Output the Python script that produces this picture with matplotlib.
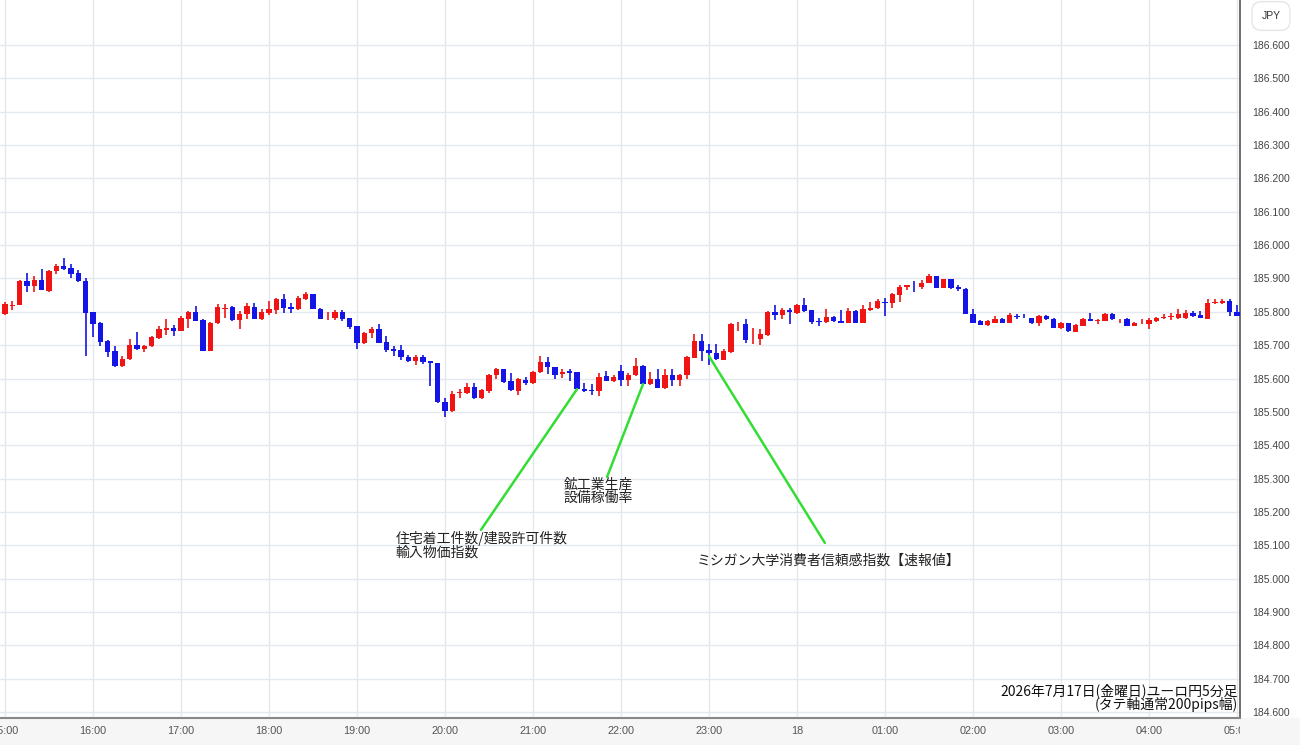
import matplotlib
matplotlib.use('Agg')
import matplotlib.pyplot as plt
from matplotlib.patches import Rectangle
from matplotlib.transforms import Bbox, TransformedBbox
import numpy as np

plt.rcParams['font.family'] = ['Noto Sans CJK JP', 'DejaVu Sans']

# 5-minute candles, index 0 = 15:00 (index -1 = 14:55)
opens = [185.823, 185.793, 185.817, 185.821, 185.891, 185.878, 185.896, 185.863, 185.923, 185.936,
         185.930, 185.915, 185.893, 185.798, 185.766, 185.713, 185.681, 185.638, 185.658, 185.700,
         185.688, 185.696, 185.720, 185.745, 185.751, 185.743, 185.778, 185.798, 185.775, 185.683,
         185.766, 185.809, 185.814, 185.775, 185.792, 185.815, 185.777, 185.795, 185.805, 185.837,
         185.813, 185.807, 185.837, 185.852, 185.809, 185.783, 185.782, 185.800, 185.782, 185.757,
         185.705, 185.735, 185.747, 185.709, 185.687, 185.684, 185.665, 185.652, 185.665, 185.653,
         185.646, 185.530, 185.503, 185.557, 185.558, 185.576, 185.543, 185.563, 185.610, 185.628,
         185.593, 185.563, 185.596, 185.586, 185.620, 185.650, 185.636, 185.613, 185.623, 185.620,
         185.570, 185.566, 185.563, 185.608, 185.593, 185.622, 185.595, 185.612, 185.639, 185.585,
         185.600, 185.572, 185.612, 185.595, 185.610, 185.662, 185.712, 185.684, 185.677, 185.657,
         185.679, 185.762, 185.762, 185.720, 185.717, 185.729, 185.799, 185.789, 185.805, 185.797,
         185.819, 185.805, 185.772, 185.769, 185.785, 185.772, 185.765, 185.802, 185.767, 185.805,
         185.812, 185.829, 185.827, 185.849, 185.875, 185.881, 185.875, 185.885, 185.907, 185.872,
         185.897, 185.875, 185.869, 185.792, 185.772, 185.759, 185.767, 185.777, 185.767, 185.787,
         185.785, 185.782, 185.765, 185.787, 185.779, 185.752, 185.765, 185.739, 185.757, 185.777,
         185.772, 185.772, 185.792, 185.777, 185.779, 185.757, 185.765, 185.762, 185.772, 185.782,
         185.784, 185.782, 185.782, 185.795, 185.789, 185.779, 185.827, 185.827, 185.832, 185.799]
highs = [185.826, 185.830, 185.833, 185.896, 185.915, 185.908, 185.928, 185.926, 185.943, 185.960,
         185.943, 185.926, 185.900, 185.800, 185.768, 185.715, 185.696, 185.668, 185.718, 185.738,
         185.700, 185.726, 185.756, 185.778, 185.760, 185.788, 185.801, 185.818, 185.777, 185.768,
         185.823, 185.822, 185.816, 185.802, 185.825, 185.827, 185.807, 185.832, 185.842, 185.852,
         185.825, 185.847, 185.860, 185.853, 185.810, 185.800, 185.805, 185.805, 185.782, 185.757,
         185.740, 185.755, 185.762, 185.727, 185.697, 185.699, 185.669, 185.669, 185.669, 185.653,
         185.648, 185.543, 185.563, 185.568, 185.586, 185.588, 185.568, 185.613, 185.633, 185.630,
         185.618, 185.603, 185.606, 185.623, 185.668, 185.663, 185.636, 185.630, 185.630, 185.620,
         185.588, 185.583, 185.618, 185.623, 185.612, 185.642, 185.617, 185.662, 185.642, 185.619,
         185.629, 185.629, 185.629, 185.615, 185.667, 185.734, 185.732, 185.702, 185.702, 185.687,
         185.766, 185.769, 185.779, 185.752, 185.747, 185.801, 185.819, 185.812, 185.812, 185.822,
         185.842, 185.805, 185.782, 185.809, 185.787, 185.805, 185.812, 185.805, 185.819, 185.829,
         185.837, 185.842, 185.857, 185.879, 185.879, 185.892, 185.895, 185.912, 185.907, 185.899,
         185.899, 185.879, 185.872, 185.809, 185.775, 185.775, 185.787, 185.782, 185.795, 185.792,
         185.792, 185.782, 185.789, 185.789, 185.782, 185.769, 185.767, 185.762, 185.782, 185.797,
         185.777, 185.797, 185.797, 185.779, 185.782, 185.769, 185.779, 185.782, 185.785, 185.792,
         185.797, 185.809, 185.805, 185.802, 185.802, 185.839, 185.839, 185.837, 185.839, 185.819]
lows = [185.792, 185.790, 185.806, 185.820, 185.858, 185.858, 185.866, 185.860, 185.913, 185.926,
        185.900, 185.889, 185.668, 185.723, 185.696, 185.663, 185.636, 185.636, 185.656, 185.686,
        185.678, 185.694, 185.718, 185.730, 185.728, 185.741, 185.750, 185.771, 185.681, 185.681,
        185.764, 185.782, 185.773, 185.747, 185.777, 185.777, 185.775, 185.789, 185.792, 185.797,
        185.795, 185.805, 185.835, 185.808, 185.777, 185.775, 185.775, 185.772, 185.747, 185.689,
        185.703, 185.722, 185.705, 185.679, 185.667, 185.657, 185.649, 185.642, 185.645, 185.578,
        185.528, 185.486, 185.500, 185.543, 185.553, 185.540, 185.540, 185.556, 185.600, 185.588,
        185.563, 185.550, 185.580, 185.583, 185.618, 185.613, 185.600, 185.603, 185.593, 185.568,
        185.560, 185.550, 185.548, 185.593, 185.590, 185.579, 185.579, 185.607, 185.582, 185.582,
        185.572, 185.569, 185.579, 185.579, 185.599, 185.660, 185.652, 185.642, 185.657, 185.655,
        185.677, 185.742, 185.705, 185.702, 185.699, 185.727, 185.775, 185.779, 185.764, 185.792,
        185.800, 185.762, 185.757, 185.767, 185.769, 185.767, 185.765, 185.765, 185.765, 185.802,
        185.809, 185.787, 185.812, 185.829, 185.865, 185.859, 185.869, 185.885, 185.872, 185.870,
        185.869, 185.862, 185.792, 185.765, 185.759, 185.757, 185.765, 185.765, 185.767, 185.779,
        185.782, 185.762, 185.757, 185.775, 185.752, 185.749, 185.739, 185.739, 185.757, 185.772,
        185.762, 185.772, 185.775, 185.767, 185.757, 185.757, 185.762, 185.747, 185.769, 185.777,
        185.775, 185.779, 185.777, 185.785, 185.782, 185.779, 185.822, 185.822, 185.787, 185.787]
closes = [185.795, 185.823, 185.820, 185.891, 185.878, 185.896, 185.866, 185.923, 185.936, 185.928,
          185.913, 185.891, 185.796, 185.763, 185.710, 185.680, 185.638, 185.658, 185.700, 185.688,
          185.698, 185.723, 185.748, 185.751, 185.741, 185.781, 185.798, 185.773, 185.683, 185.766,
          185.814, 185.812, 185.775, 185.794, 185.817, 185.777, 185.799, 185.807, 185.837, 185.812,
          185.807, 185.842, 185.852, 185.809, 185.779, 185.785, 185.800, 185.779, 185.754, 185.707,
          185.737, 185.747, 185.707, 185.684, 185.682, 185.665, 185.652, 185.665, 185.649, 185.646,
          185.530, 185.503, 185.555, 185.560, 185.576, 185.543, 185.566, 185.610, 185.628, 185.590,
          185.565, 185.598, 185.588, 185.621, 185.650, 185.636, 185.611, 185.621, 185.618, 185.570,
          185.563, 185.563, 185.606, 185.593, 185.606, 185.597, 185.612, 185.639, 185.585, 185.600,
          185.572, 185.612, 185.595, 185.612, 185.664, 185.712, 185.682, 185.677, 185.659, 185.682,
          185.764, 185.764, 185.714, 185.722, 185.732, 185.799, 185.789, 185.805, 185.799, 185.819,
          185.802, 185.769, 185.769, 185.785, 185.772, 185.767, 185.802, 185.767, 185.807, 185.812,
          185.832, 185.825, 185.852, 185.875, 185.879, 185.879, 185.887, 185.907, 185.872, 185.897,
          185.872, 185.869, 185.792, 185.767, 185.759, 185.772, 185.777, 185.767, 185.789, 185.785,
          185.783, 185.765, 185.787, 185.777, 185.752, 185.765, 185.742, 185.759, 185.779, 185.772,
          185.775, 185.792, 185.777, 185.779, 185.757, 185.765, 185.767, 185.775, 185.782, 185.785,
          185.787, 185.792, 185.795, 185.787, 185.782, 185.827, 185.829, 185.832, 185.799, 185.787]

tick_labels = ['15:00', '16:00', '17:00', '18:00', '19:00', '20:00', '21:00', '22:00', '23:00',
               '18', '01:00', '02:00', '03:00', '04:00', '05:00']
price_ticks = [round(184.6 + 0.1 * k, 1) for k in range(21)]

# economic events: (candle index, price at candle, text)
events = [(78, 185.568, '住宅着工件数/建設許可件数\n輸入物価指数'),
          (87, 185.583, '鉱工業生産\n設備稼働率'),
          (96, 185.667, 'ミシガン大学消費者信頼感指数【速報値】')]

opens = np.array(opens); highs = np.array(highs)
lows = np.array(lows); closes = np.array(closes)
idx = np.arange(len(opens)) - 1

fig = plt.figure(figsize=(13, 7.45), dpi=100)
fig.patches.append(Rectangle((0, 0), 1, 27.5 / 745, transform=fig.transFigure,
                             color='#f6f6f6', zorder=-5))
ax = fig.add_axes([0, 27.5 / 745, 1240 / 1300, 717.5 / 745])
ax.patch.set_alpha(0)

up = closes > opens
colors = np.where(up, '#f01414', '#1414e6')
ax.vlines(idx, lows, highs, colors=colors, lw=1.2, zorder=3)
body_lo = np.minimum(opens, closes)
body_h = np.maximum(np.abs(closes - opens), 0.0028)
ax.bar(idx, body_h, bottom=body_lo, width=0.7, color=colors, zorder=4)

ax.set_xlim(-0.68, 168.41)
ax.set_ylim(184.5835, 186.735)

ax.set_xticks(np.arange(0, 169, 12))
ax.set_xticklabels(tick_labels, fontsize=7.8, color='#555555', family='Liberation Sans')
# the time labels stop at the price axis panel
clip = TransformedBbox(Bbox([[0, 0], [1240 / 1300, 1]]), fig.transFigure)
for lab in ax.get_xticklabels():
    lab.set_clip_box(clip)
    lab.set_clip_on(True)
ax.yaxis.tick_right()
ax.set_yticks(price_ticks)
ax.set_yticklabels(['%.3f' % p for p in price_ticks], fontsize=7.5, color='#444444',
                   family='Liberation Sans')
ax.tick_params(axis='y', length=0, pad=8.5)
ax.tick_params(axis='x', length=0, pad=6)
ax.grid(True, color='#e3e9ef', lw=1)
ax.set_axisbelow(True)
for s in ['left', 'top']:
    ax.spines[s].set_visible(False)
ax.spines['right'].set_color('#555555')
ax.spines['right'].set_linewidth(1.2)
ax.spines['bottom'].set_color('#888888')
ax.spines['bottom'].set_linewidth(1.5)

# annotation lines and texts
line_ends = [(64.9, 185.146), (82.1, 185.305), (111.8, 185.107)]
text_pos = [(53.3, 185.143, 'top'), (76.2, 185.302, 'top'), (94.4, 185.053, 'center')]
for (ci, cp, txt), (ex, ey), (tx, ty, va) in zip(events, line_ends, text_pos):
    ax.annotate('', xy=(ci, cp), xytext=(ex, ey),
                arrowprops=dict(arrowstyle='-', color='#33dd33', lw=1.8,
                                shrinkA=0, shrinkB=0), zorder=5)
    ax.text(tx, ty, txt, fontsize=10, va=va, ha='left', color='#222222',
            linespacing=0.95, zorder=6)

ax.text(0.998, 0.007, '2026年7月17日(金曜日)ユーロ円5分足\n(タテ軸通常200pips幅)',
        transform=ax.transAxes, ha='right', va='bottom', fontsize=10,
        color='#111111', linespacing=0.95,
        family=['Noto Sans CJK JP', 'DejaVu Sans'], multialignment='right')

fig.text(1271 / 1300, 1 - 16 / 745, 'JPY', ha='center', va='center', fontsize=7.5,
         color='#333333', family='Liberation Sans',
         bbox=dict(boxstyle='round,pad=0.9', fc='white', ec='#e6e6e6', lw=1))

fig.savefig('out.png', dpi=100)
